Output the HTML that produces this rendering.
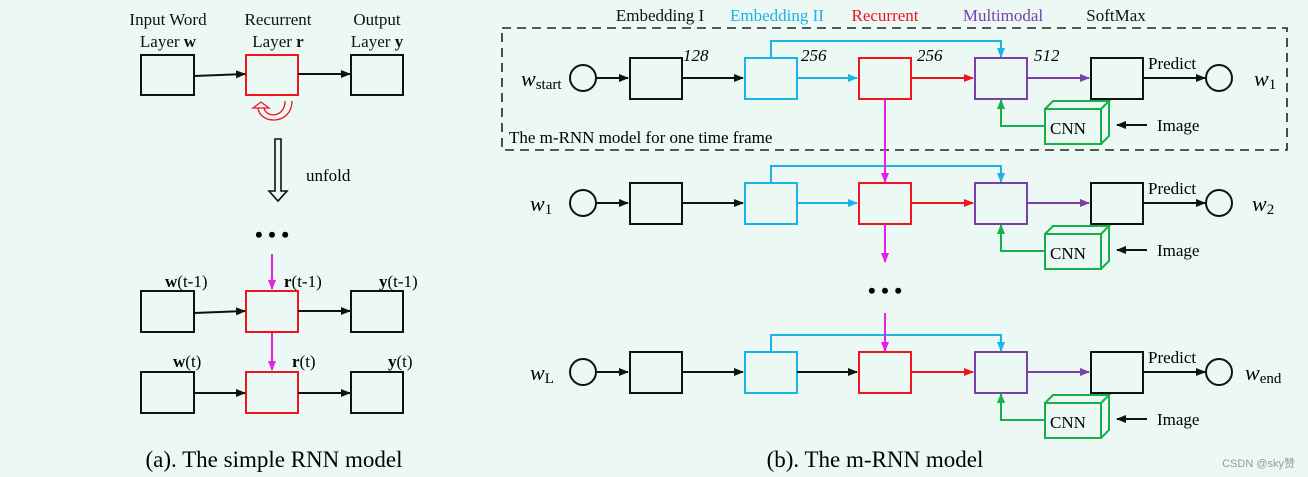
<!DOCTYPE html>
<html><head><meta charset="utf-8"><style>
html,body{margin:0;padding:0;background:#ebf8f3;}
svg{display:block;font-family:"Liberation Serif",serif;}
</style></head><body>
<svg width="1308" height="477" viewBox="0 0 1308 477" xmlns="http://www.w3.org/2000/svg">
<defs>
<marker id="ak" markerWidth="10" markerHeight="8" refX="9" refY="4" orient="auto" markerUnits="userSpaceOnUse"><path d="M0,0L10,4L0,8z" fill="#111"/></marker>
<marker id="ab" markerWidth="10" markerHeight="8" refX="9" refY="4" orient="auto" markerUnits="userSpaceOnUse"><path d="M0,0L10,4L0,8z" fill="#1ab4e8"/></marker>
<marker id="ar" markerWidth="10" markerHeight="8" refX="9" refY="4" orient="auto" markerUnits="userSpaceOnUse"><path d="M0,0L10,4L0,8z" fill="#f0141e"/></marker>
<marker id="ap" markerWidth="10" markerHeight="8" refX="9" refY="4" orient="auto" markerUnits="userSpaceOnUse"><path d="M0,0L10,4L0,8z" fill="#7a3fa8"/></marker>
<marker id="ag" markerWidth="10" markerHeight="8" refX="9" refY="4" orient="auto" markerUnits="userSpaceOnUse"><path d="M0,0L10,4L0,8z" fill="#15b04a"/></marker>
<marker id="am" markerWidth="10" markerHeight="8" refX="9" refY="4" orient="auto" markerUnits="userSpaceOnUse"><path d="M0,0L10,4L0,8z" fill="#e81ee8"/></marker>
<g id="row">
 <circle cx="583" cy="0" r="13" fill="none" stroke="#111" stroke-width="2"/>
 <line x1="596" y1="0" x2="628" y2="0" stroke="#111" stroke-width="2" marker-end="url(#ak)"/>
 <rect x="630" y="-20" width="52" height="41" fill="none" stroke="#111" stroke-width="2"/>
 <line x1="682" y1="0" x2="743" y2="0" stroke="#111" stroke-width="2" marker-end="url(#ak)"/>
 <rect x="745" y="-20" width="52" height="41" fill="none" stroke="#1ab4e8" stroke-width="2"/>
 <polyline points="771,-20 771,-37 1001,-37 1001,-21" fill="none" stroke="#1ab4e8" stroke-width="2" marker-end="url(#ab)"/>
 <rect x="859" y="-20" width="52" height="41" fill="none" stroke="#f0141e" stroke-width="2"/>
 <line x1="911" y1="0" x2="973" y2="0" stroke="#f0141e" stroke-width="2" marker-end="url(#ar)"/>
 <rect x="975" y="-20" width="52" height="41" fill="none" stroke="#7a3fa8" stroke-width="2"/>
 <line x1="1027" y1="0" x2="1089" y2="0" stroke="#7a3fa8" stroke-width="2" marker-end="url(#ap)"/>
 <rect x="1091" y="-20" width="52" height="41" fill="none" stroke="#111" stroke-width="2"/>
 <line x1="1143" y1="0" x2="1205" y2="0" stroke="#111" stroke-width="2" marker-end="url(#ak)"/>
 <circle cx="1219" cy="0" r="13" fill="none" stroke="#111" stroke-width="2"/>
 <text x="1148" y="-9" font-size="17">Predict</text>
 <polyline points="1045,48 1001,48 1001,22" fill="none" stroke="#15b04a" stroke-width="2" marker-end="url(#ag)"/>
 <path d="M1045,31 h56 v35 h-56 z M1045,31 l8,-8 h56 l-8,8 M1101,66 l8,-8 v-35" fill="none" stroke="#15b04a" stroke-width="2"/>
 <text x="1050" y="56" font-size="17">CNN</text>
 <line x1="1147" y1="47" x2="1117" y2="47" stroke="#111" stroke-width="2" marker-end="url(#ak)"/>
 <text x="1157" y="53" font-size="17">Image</text>
</g>
</defs>

<g font-size="17" text-anchor="middle" fill="#111">
<text x="168" y="25">Input Word</text><text x="168" y="47">Layer <tspan font-weight="bold">w</tspan></text>
<text x="278" y="25">Recurrent</text><text x="278" y="47">Layer <tspan font-weight="bold">r</tspan></text>
<text x="377" y="25">Output</text><text x="377" y="47">Layer <tspan font-weight="bold">y</tspan></text>
</g>
<rect x="141" y="55" width="53" height="40" fill="none" stroke="#111" stroke-width="2"/>
<rect x="246" y="55" width="52" height="40" fill="none" stroke="#f0141e" stroke-width="2"/>
<rect x="351" y="55" width="52" height="40" fill="none" stroke="#111" stroke-width="2"/>
<line x1="194" y1="76" x2="245" y2="74" stroke="#111" stroke-width="2" marker-end="url(#ak)"/>
<line x1="298" y1="74" x2="350" y2="74" stroke="#111" stroke-width="2" marker-end="url(#ak)"/>
<path d="M292,101 C292,125 260,125 258,108 M285,101 C285,118 266,118 264,108 M253,108 l8,-6 l8,6 z" fill="none" stroke="#f0141e" stroke-width="1.3"/>
<path d="M275,139 h6 v52 h6 l-9,10 l-9,-10 h6 z" fill="none" stroke="#111" stroke-width="1.6"/>
<text x="306" y="181" font-size="17">unfold</text>
<text x="272" y="242" font-size="22" text-anchor="middle" font-weight="bold">• • •</text>
<line x1="272" y1="254" x2="272" y2="289" stroke="#e81ee8" stroke-width="2" marker-end="url(#am)"/>
<g font-size="17">
<text x="165" y="287"><tspan font-weight="bold">w</tspan>(t-1)</text>
<text x="284" y="287"><tspan font-weight="bold">r</tspan>(t-1)</text>
<text x="379" y="287"><tspan font-weight="bold">y</tspan>(t-1)</text>
<text x="173" y="367"><tspan font-weight="bold">w</tspan>(t)</text>
<text x="292" y="367"><tspan font-weight="bold">r</tspan>(t)</text>
<text x="388" y="367"><tspan font-weight="bold">y</tspan>(t)</text>
</g>
<rect x="141" y="291" width="53" height="41" fill="none" stroke="#111" stroke-width="2"/>
<rect x="246" y="291" width="52" height="41" fill="none" stroke="#f0141e" stroke-width="2"/>
<rect x="351" y="291" width="52" height="41" fill="none" stroke="#111" stroke-width="2"/>
<line x1="194" y1="313" x2="245" y2="311" stroke="#111" stroke-width="2" marker-end="url(#ak)"/>
<line x1="298" y1="311" x2="350" y2="311" stroke="#111" stroke-width="2" marker-end="url(#ak)"/>
<line x1="272" y1="333" x2="272" y2="370" stroke="#e81ee8" stroke-width="2" marker-end="url(#am)"/>
<rect x="141" y="372" width="53" height="41" fill="none" stroke="#111" stroke-width="2"/>
<rect x="246" y="372" width="52" height="41" fill="none" stroke="#f0141e" stroke-width="2"/>
<rect x="351" y="372" width="52" height="41" fill="none" stroke="#111" stroke-width="2"/>
<line x1="194" y1="393" x2="245" y2="393" stroke="#111" stroke-width="2" marker-end="url(#ak)"/>
<line x1="298" y1="393" x2="350" y2="393" stroke="#111" stroke-width="2" marker-end="url(#ak)"/>
<text x="274" y="467" font-size="23" text-anchor="middle">(a). The simple RNN model</text>

<g font-size="17" text-anchor="middle">
<text x="660" y="21" fill="#111">Embedding I</text>
<text x="777" y="21" fill="#1ab4e8">Embedding II</text>
<text x="885" y="21" fill="#f0141e">Recurrent</text>
<text x="1003" y="21" fill="#7a3fa8">Multimodal</text>
<text x="1116" y="21" fill="#111">SoftMax</text>
</g>
<rect x="502" y="28" width="785" height="122" fill="none" stroke="#222" stroke-width="1.6" stroke-dasharray="9,6"/>
<text x="509" y="143" font-size="17">The m-RNN model for one time frame</text>
<g font-size="17" font-style="italic">
<text x="683" y="61">128</text><text x="801" y="61">256</text><text x="917" y="61">256</text><text x="1034" y="61">512</text>
</g>
<use href="#row" transform="translate(0,78)"/>
<use href="#row" transform="translate(0,203)"/>
<use href="#row" transform="translate(0,372)"/>
<line x1="797" y1="203" x2="857" y2="203" stroke="#1ab4e8" stroke-width="2" marker-end="url(#ab)"/>
<line x1="797" y1="78" x2="857" y2="78" stroke="#1ab4e8" stroke-width="2" marker-end="url(#ab)"/>
<line x1="797" y1="372" x2="857" y2="372" stroke="#111" stroke-width="2" marker-end="url(#ak)"/>
<line x1="885" y1="99" x2="885" y2="182" stroke="#e81ee8" stroke-width="2" marker-end="url(#am)"/>
<line x1="885" y1="224" x2="885" y2="262" stroke="#e81ee8" stroke-width="2" marker-end="url(#am)"/>
<text x="885" y="298" font-size="22" text-anchor="middle" font-weight="bold">• • •</text>
<line x1="885" y1="313" x2="885" y2="351" stroke="#e81ee8" stroke-width="2" marker-end="url(#am)"/>
<g font-size="22" font-style="italic">
<text x="521" y="86">w<tspan font-size="15" font-style="normal" dy="3">start</tspan></text>
<text x="1254" y="86">w<tspan font-size="15" font-style="normal" dy="3">1</tspan></text>
<text x="530" y="211">w<tspan font-size="15" font-style="normal" dy="3">1</tspan></text>
<text x="1252" y="211">w<tspan font-size="15" font-style="normal" dy="3">2</tspan></text>
<text x="530" y="380">w<tspan font-size="15" font-style="normal" dy="3">L</tspan></text>
<text x="1245" y="380">w<tspan font-size="15" font-style="normal" dy="3">end</tspan></text>
</g>
<text x="875" y="467" font-size="23" text-anchor="middle">(b). The m-RNN model</text>
<text x="1295" y="467" font-size="11" fill="#999" text-anchor="end" font-family="Liberation Sans, Noto Sans CJK SC, sans-serif">CSDN @sky赞</text>
</svg>
</body></html>
